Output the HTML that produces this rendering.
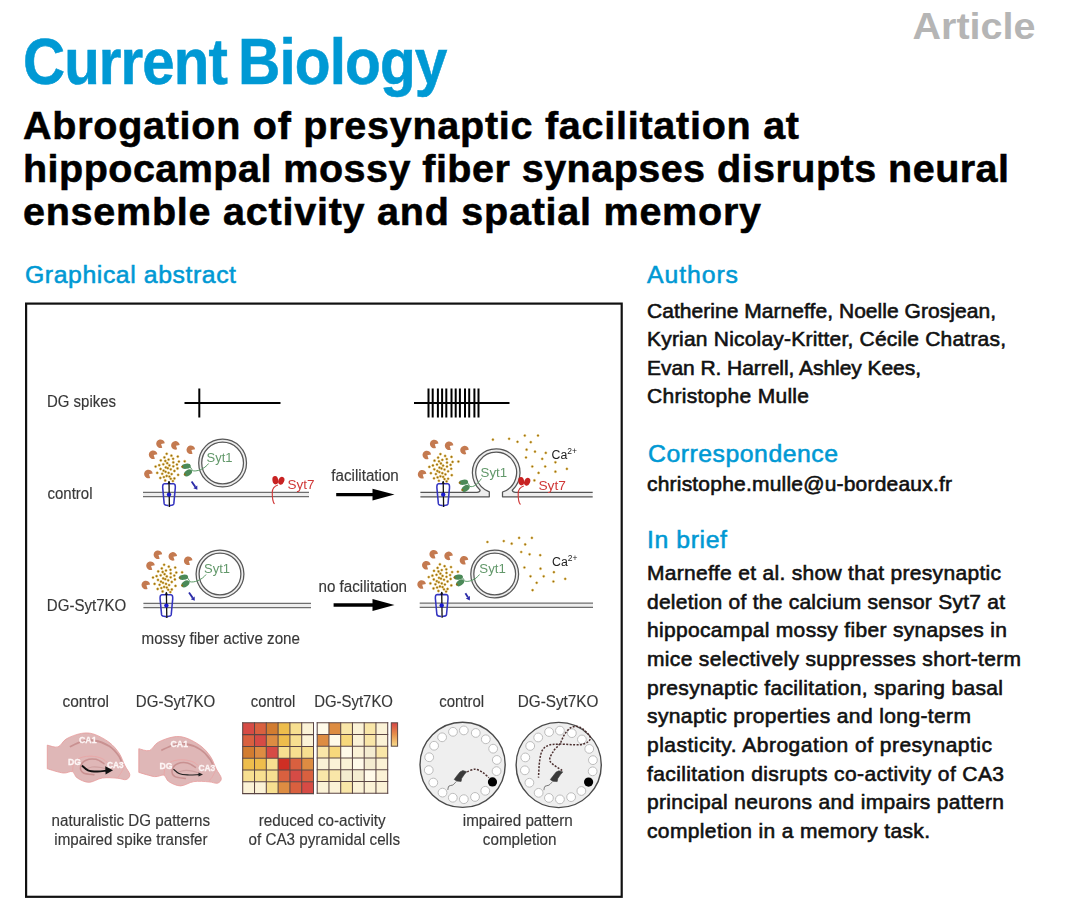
<!DOCTYPE html>
<html><head><meta charset="utf-8">
<style>
html,body{margin:0;padding:0;background:#fff;width:1080px;height:910px;overflow:hidden}
svg{display:block;position:absolute;left:0;top:0}
.figsvg{will-change:transform}
text{font-family:"Liberation Sans",sans-serif}
.b{font-weight:bold}
.blue{fill:#0099d4}
.body{fill:#111;font-size:21px;stroke:#111;stroke-width:0.6px}
.fig{fill:#3a3a3a;font-size:15px}
.blue{stroke:#0099d4;stroke-width:0.55px}
</style></head><body>
<svg width="1080" height="910" viewBox="0 0 1080 910">
<!-- header -->
<text class="b" x="912.5" y="39.4" font-size="37.8" fill="#b5b5b5" textLength="123" lengthAdjust="spacingAndGlyphs">Article</text>
<text class="b blue" x="23" y="84" font-size="64.2" textLength="204" lengthAdjust="spacingAndGlyphs" letter-spacing="-1">Current</text><text class="b blue" x="238" y="84" font-size="64.2" textLength="208.5" lengthAdjust="spacingAndGlyphs" letter-spacing="-1">Biology</text>
<text class="b" x="23" y="139.4" font-size="39.5" fill="#000" stroke="#000" stroke-width="0.55" textLength="776" lengthAdjust="spacing">Abrogation of presynaptic facilitation at</text>
<text class="b" x="23" y="182.2" font-size="39.5" fill="#000" stroke="#000" stroke-width="0.55" textLength="986" lengthAdjust="spacing">hippocampal mossy fiber synapses disrupts neural</text>
<text class="b" x="23" y="224.5" font-size="39.5" fill="#000" stroke="#000" stroke-width="0.55" textLength="738" lengthAdjust="spacing">ensemble activity and spatial memory</text>

<!-- section headings -->
<text class="blue" x="25" y="282.6" font-size="24.8" textLength="211" lengthAdjust="spacing">Graphical abstract</text>
<text class="blue" x="647" y="283" font-size="24.8" textLength="91" lengthAdjust="spacing">Authors</text>
<text class="blue" x="648" y="461.8" font-size="24.8" textLength="190" lengthAdjust="spacing">Correspondence</text>
<text class="blue" x="647" y="548" font-size="24.8" textLength="80" lengthAdjust="spacing">In brief</text>

<!-- authors -->
<g class="body">
<text x="647" y="317.8" textLength="349" lengthAdjust="spacing">Catherine Marneffe, Noelle Grosjean,</text>
<text x="647" y="346.2" textLength="359" lengthAdjust="spacing">Kyrian Nicolay-Kritter, Cécile Chatras,</text>
<text x="647" y="374.6" textLength="274" lengthAdjust="spacing">Evan R. Harrell, Ashley Kees,</text>
<text x="647" y="403" textLength="162" lengthAdjust="spacing">Christophe Mulle</text>
<text x="647" y="490.6" textLength="305" lengthAdjust="spacing">christophe.mulle@u-bordeaux.fr</text>
</g>
<!-- in brief -->
<g class="body">
<text x="647" y="580.00" textLength="354" lengthAdjust="spacing">Marneffe et al. show that presynaptic</text>
<text x="647" y="608.65" textLength="358" lengthAdjust="spacing">deletion of the calcium sensor Syt7 at</text>
<text x="647" y="637.30" textLength="360" lengthAdjust="spacing">hippocampal mossy fiber synapses in</text>
<text x="647" y="665.95" textLength="374" lengthAdjust="spacing">mice selectively suppresses short-term</text>
<text x="647" y="694.60" textLength="356" lengthAdjust="spacing">presynaptic facilitation, sparing basal</text>
<text x="647" y="723.25" textLength="324" lengthAdjust="spacing">synaptic properties and long-term</text>
<text x="647" y="751.90" textLength="345" lengthAdjust="spacing">plasticity. Abrogation of presynaptic</text>
<text x="647" y="780.55" textLength="357" lengthAdjust="spacing">facilitation disrupts co-activity of CA3</text>
<text x="647" y="809.20" textLength="357" lengthAdjust="spacing">principal neurons and impairs pattern</text>
<text x="647" y="837.85" textLength="283" lengthAdjust="spacing">completion in a memory task.</text>
</g>

<!-- graphical abstract box -->
<rect x="26.1" y="303.6" width="595.6" height="593.2" fill="none" stroke="#111" stroke-width="2.2"/>

</svg>
<svg class="figsvg" width="1080" height="910" viewBox="0 0 1080 910">
<!-- FIGURE -->
<g id="fig">
<!--FIG-->
<g stroke="#000" stroke-width="2">
<line x1="184.5" y1="403" x2="280.5" y2="403"/>
<line x1="199.3" y1="388.5" x2="199.3" y2="417.5"/>
<line x1="414" y1="403" x2="509.5" y2="403"/>
<line x1="428.5" y1="388.5" x2="428.5" y2="417.5"/>
<line x1="432.7" y1="388.5" x2="432.7" y2="417.5"/>
<line x1="437.9" y1="388.5" x2="437.9" y2="417.5"/>
<line x1="442.1" y1="388.5" x2="442.1" y2="417.5"/>
<line x1="446.3" y1="388.5" x2="446.3" y2="417.5"/>
<line x1="451.5" y1="388.5" x2="451.5" y2="417.5"/>
<line x1="455.7" y1="388.5" x2="455.7" y2="417.5"/>
<line x1="459.9" y1="388.5" x2="459.9" y2="417.5"/>
<line x1="465" y1="388.5" x2="465" y2="417.5"/>
<line x1="469.2" y1="388.5" x2="469.2" y2="417.5"/>
<line x1="474.4" y1="388.5" x2="474.4" y2="417.5"/>
<line x1="478.5" y1="388.5" x2="478.5" y2="417.5"/>
</g>
<text x="47" y="407.2" font-size="15.6" fill="#383838" stroke="#383838" stroke-width="0.15" textLength="69" lengthAdjust="spacingAndGlyphs">DG spikes</text>
<text x="47.5" y="498.8" font-size="15.6" fill="#383838" stroke="#383838" stroke-width="0.15" textLength="45" lengthAdjust="spacingAndGlyphs">control</text>
<text x="46.8" y="610.6" font-size="15.6" fill="#383838" stroke="#383838" stroke-width="0.15" textLength="79.5" lengthAdjust="spacingAndGlyphs">DG-Syt7KO</text>
<text x="331.3" y="480.6" font-size="15.6" fill="#383838" stroke="#383838" stroke-width="0.15" textLength="67.5" lengthAdjust="spacingAndGlyphs">facilitation</text>
<text x="318.5" y="592" font-size="15.6" fill="#383838" stroke="#383838" stroke-width="0.15" textLength="88.5" lengthAdjust="spacingAndGlyphs">no facilitation</text>
<text x="141.5" y="643.6" font-size="15.6" fill="#383838" stroke="#383838" stroke-width="0.15" textLength="158.5" lengthAdjust="spacingAndGlyphs">mossy fiber active zone</text>
<line x1="336.2" y1="494.6" x2="374.5" y2="494.6" stroke="#000" stroke-width="3.4"/>
<path d="M372.5 488.7 L394.5 494.6 L372.5 500.5 Z" fill="#000"/>
<line x1="333.6" y1="605" x2="374.5" y2="605" stroke="#000" stroke-width="3.4"/>
<path d="M372.5 599.1 L394.5 605 L372.5 610.9 Z" fill="#000"/>
<rect x="143" y="492.4" width="166" height="4.2" fill="#eeeeee"/>
<g stroke="#6e6e6e" stroke-width="1.3"><line x1="143" y1="492.4" x2="309" y2="492.4"/><line x1="143" y1="496.6" x2="309" y2="496.6"/></g>
<circle cx="222.6" cy="463" r="22.4" fill="none" stroke="#eeeeee" stroke-width="4.2"/>
<g fill="none" stroke="#585858" stroke-width="1.25"><circle cx="222.6" cy="463" r="23.9"/><circle cx="222.6" cy="463" r="20.9"/></g>
<path d="M161.1 444 L164.78 443.25 A4.3 4.3 0 1 0 162.25 447.63 Z" fill="#c47a50"/>
<path d="M176 445.7 L179.68 444.95 A4.3 4.3 0 1 0 177.15 449.33 Z" fill="#c47a50"/>
<path d="M191.4 450.1 L195.08 449.35 A4.3 4.3 0 1 0 192.55 453.73 Z" fill="#c47a50"/>
<path d="M153.7 455 L157.38 454.25 A4.3 4.3 0 1 0 154.85 458.63 Z" fill="#c47a50"/>
<path d="M149 474.3 L152.68 473.55 A4.3 4.3 0 1 0 150.15 477.93 Z" fill="#c47a50"/>
<g fill="#946a0e" stroke="#e6bd4e" stroke-width="0.5">
<circle cx="166.7" cy="453.8" r="1.15"/>
<circle cx="164.4" cy="457.4" r="1.15"/>
<circle cx="171.4" cy="455.7" r="1.15"/>
<circle cx="177.8" cy="456.6" r="1.15"/>
<circle cx="160.8" cy="460.4" r="1.15"/>
<circle cx="165.3" cy="461" r="1.15"/>
<circle cx="168.6" cy="459.6" r="1.15"/>
<circle cx="173.1" cy="458.8" r="1.15"/>
<circle cx="178.9" cy="461.6" r="1.15"/>
<circle cx="184.7" cy="461.3" r="1.15"/>
<circle cx="155.6" cy="466.6" r="1.15"/>
<circle cx="159.2" cy="465.2" r="1.15"/>
<circle cx="163.3" cy="464.3" r="1.15"/>
<circle cx="167.2" cy="463.2" r="1.15"/>
<circle cx="169.4" cy="465.4" r="1.15"/>
<circle cx="173.3" cy="462.4" r="1.15"/>
<circle cx="173.3" cy="466.3" r="1.15"/>
<circle cx="176.9" cy="464.6" r="1.15"/>
<circle cx="160.6" cy="469" r="1.15"/>
<circle cx="165.8" cy="467.4" r="1.15"/>
<circle cx="167.8" cy="468.2" r="1.15"/>
<circle cx="170.8" cy="469.3" r="1.15"/>
<circle cx="177.5" cy="468.5" r="1.15"/>
<circle cx="174.4" cy="471" r="1.15"/>
<circle cx="157.2" cy="472.9" r="1.15"/>
<circle cx="162.2" cy="473.8" r="1.15"/>
<circle cx="163.6" cy="470.7" r="1.15"/>
<circle cx="165.6" cy="471.8" r="1.15"/>
<circle cx="168.6" cy="472.9" r="1.15"/>
<circle cx="171.7" cy="474.1" r="1.15"/>
<circle cx="178.1" cy="474.9" r="1.15"/>
<circle cx="160.3" cy="478" r="1.15"/>
<circle cx="163.9" cy="477.1" r="1.15"/>
<circle cx="166.7" cy="476" r="1.15"/>
<circle cx="169.4" cy="476.6" r="1.15"/>
<circle cx="170.8" cy="478.8" r="1.15"/>
<circle cx="174.4" cy="478.5" r="1.15"/>
<circle cx="165.2" cy="480.5" r="1.15"/>
<circle cx="172.9" cy="481.1" r="1.15"/>
</g>
<g fill="none" stroke="#3434c0" stroke-width="1.55">
<path d="M168.6 483.8 L164.4 483.8 Q162.4 484 162.7 487.9 L164.2 503.9 Q164.7 505.6 168.6 505.6"/>
<path d="M169.4 483.8 L173.6 483.8 Q175.6 484 175.3 487.9 L173.8 503.9 Q173.3 505.6 169.4 505.6"/>
</g>
<line x1="169" y1="481.2" x2="169.4" y2="507" stroke="#111" stroke-width="1.3"/>
<path d="M167.4 483.8 L169 480.8 L170.6 483.8 Z" fill="#111"/>
<circle cx="169" cy="494.6" r="2.2" fill="#1a1ad0"/>
<line x1="191.6" y1="481.6" x2="195.32" y2="486.86" stroke="#2a2aa8" stroke-width="1.8"/>
<path d="M193.36 488.25 L197.4 489.8 L197.28 485.47 Z" fill="#2a2aa8"/>
<ellipse cx="186.2" cy="466.3" rx="4.6" ry="2.6" transform="rotate(-8 186.2 466.3)" fill="#4b8a58"/>
<ellipse cx="188" cy="472.9" rx="4.4" ry="2.8" transform="rotate(-35 188 472.9)" fill="#4b8a58"/>
<circle cx="182.2" cy="466.7" r="1" fill="#946a0e"/>
<circle cx="184.7" cy="474.5" r="1" fill="#946a0e"/>
<path d="M190.2 466.9 Q193.2 469.6 191.2 472.4" fill="none" stroke="#4b8a58" stroke-width="0.9"/>
<path d="M192.2 470.6 C196.2 472.1 204.6 469 208.6 463.5" fill="none" stroke="#5a9a66" stroke-width="1"/>
<text x="206.6" y="462.3" font-size="12.6" fill="#62986a" textLength="26" lengthAdjust="spacingAndGlyphs">Syt1</text>
<ellipse cx="275.3" cy="480.2" rx="2.9" ry="4.2" transform="rotate(-8 275.3 480.2)" fill="#c82222"/>
<ellipse cx="281.3" cy="480.7" rx="2.9" ry="4.1" transform="rotate(22 281.3 480.7)" fill="#c82222"/>
<path d="M277.9 485 Q272.5 486.7 272.3 492.2 Q272.1 501.2 274.5 504" fill="none" stroke="#d03a3a" stroke-width="1.15"/>
<text x="287.6" y="488.6" font-size="12.6" fill="#d03838" textLength="27" lengthAdjust="spacingAndGlyphs">Syt7</text>
<rect x="143.4" y="603.4" width="167.6" height="4.2" fill="#eeeeee"/>
<g stroke="#6e6e6e" stroke-width="1.3"><line x1="143.4" y1="603.4" x2="311" y2="603.4"/><line x1="143.4" y1="607.6" x2="311" y2="607.6"/></g>
<circle cx="220" cy="574" r="22.4" fill="none" stroke="#eeeeee" stroke-width="4.2"/>
<g fill="none" stroke="#585858" stroke-width="1.25"><circle cx="220" cy="574" r="23.9"/><circle cx="220" cy="574" r="20.9"/></g>
<path d="M158.5 555 L162.18 554.25 A4.3 4.3 0 1 0 159.65 558.63 Z" fill="#c47a50"/>
<path d="M173.4 556.7 L177.08 555.95 A4.3 4.3 0 1 0 174.55 560.33 Z" fill="#c47a50"/>
<path d="M188.8 561.1 L192.48 560.35 A4.3 4.3 0 1 0 189.95 564.73 Z" fill="#c47a50"/>
<path d="M151.1 566 L154.78 565.25 A4.3 4.3 0 1 0 152.25 569.63 Z" fill="#c47a50"/>
<path d="M146.4 585.3 L150.08 584.55 A4.3 4.3 0 1 0 147.55 588.93 Z" fill="#c47a50"/>
<g fill="#946a0e" stroke="#e6bd4e" stroke-width="0.5">
<circle cx="164.1" cy="564.8" r="1.15"/>
<circle cx="161.8" cy="568.4" r="1.15"/>
<circle cx="168.8" cy="566.7" r="1.15"/>
<circle cx="175.2" cy="567.6" r="1.15"/>
<circle cx="158.2" cy="571.4" r="1.15"/>
<circle cx="162.7" cy="572" r="1.15"/>
<circle cx="166" cy="570.6" r="1.15"/>
<circle cx="170.5" cy="569.8" r="1.15"/>
<circle cx="176.3" cy="572.6" r="1.15"/>
<circle cx="182.1" cy="572.3" r="1.15"/>
<circle cx="153" cy="577.6" r="1.15"/>
<circle cx="156.6" cy="576.2" r="1.15"/>
<circle cx="160.7" cy="575.3" r="1.15"/>
<circle cx="164.6" cy="574.2" r="1.15"/>
<circle cx="166.8" cy="576.4" r="1.15"/>
<circle cx="170.7" cy="573.4" r="1.15"/>
<circle cx="170.7" cy="577.3" r="1.15"/>
<circle cx="174.3" cy="575.6" r="1.15"/>
<circle cx="158" cy="580" r="1.15"/>
<circle cx="163.2" cy="578.4" r="1.15"/>
<circle cx="165.2" cy="579.2" r="1.15"/>
<circle cx="168.2" cy="580.3" r="1.15"/>
<circle cx="174.9" cy="579.5" r="1.15"/>
<circle cx="171.8" cy="582" r="1.15"/>
<circle cx="154.6" cy="583.9" r="1.15"/>
<circle cx="159.6" cy="584.8" r="1.15"/>
<circle cx="161" cy="581.7" r="1.15"/>
<circle cx="163" cy="582.8" r="1.15"/>
<circle cx="166" cy="583.9" r="1.15"/>
<circle cx="169.1" cy="585.1" r="1.15"/>
<circle cx="175.5" cy="585.9" r="1.15"/>
<circle cx="157.7" cy="589" r="1.15"/>
<circle cx="161.3" cy="588.1" r="1.15"/>
<circle cx="164.1" cy="587" r="1.15"/>
<circle cx="166.8" cy="587.6" r="1.15"/>
<circle cx="168.2" cy="589.8" r="1.15"/>
<circle cx="171.8" cy="589.5" r="1.15"/>
<circle cx="162.6" cy="591.5" r="1.15"/>
<circle cx="170.3" cy="592.1" r="1.15"/>
</g>
<g fill="none" stroke="#3434c0" stroke-width="1.55">
<path d="M166 594.8 L161.8 594.8 Q159.8 595 160.1 598.9 L161.6 614.9 Q162.1 616.6 166 616.6"/>
<path d="M166.8 594.8 L171 594.8 Q173 595 172.7 598.9 L171.2 614.9 Q170.7 616.6 166.8 616.6"/>
</g>
<line x1="166.4" y1="592.2" x2="166.8" y2="618" stroke="#111" stroke-width="1.3"/>
<path d="M164.8 594.8 L166.4 591.8 L168 594.8 Z" fill="#111"/>
<circle cx="166.4" cy="605.6" r="2.2" fill="#1a1ad0"/>
<line x1="189" y1="592.6" x2="192.72" y2="597.86" stroke="#2a2aa8" stroke-width="1.8"/>
<path d="M190.76 599.25 L194.8 600.8 L194.68 596.47 Z" fill="#2a2aa8"/>
<ellipse cx="183.6" cy="577.3" rx="4.6" ry="2.6" transform="rotate(-8 183.6 577.3)" fill="#4b8a58"/>
<ellipse cx="185.4" cy="583.9" rx="4.4" ry="2.8" transform="rotate(-35 185.4 583.9)" fill="#4b8a58"/>
<circle cx="179.6" cy="577.7" r="1" fill="#946a0e"/>
<circle cx="182.1" cy="585.5" r="1" fill="#946a0e"/>
<path d="M187.6 577.9 Q190.6 580.6 188.6 583.4" fill="none" stroke="#4b8a58" stroke-width="0.9"/>
<path d="M189.6 581.6 C193.6 583.1 202 580 206 574.5" fill="none" stroke="#5a9a66" stroke-width="1"/>
<text x="204" y="573.3" font-size="12.6" fill="#62986a" textLength="26" lengthAdjust="spacingAndGlyphs">Syt1</text>
<path d="M420.4 492.4 L476.98 492.4 Q479.68 492.4 480.18 490.2 A23.8 23.8 0 1 1 512.22 490.2 Q512.72 492.4 515.42 492.4 L592.7 492.4 L592.7 496.8 L502.5 496.8 L502.5 492 A20.4 20.4 0 1 0 489.3 491.8 L489.3 496.8 L420.4 496.8 Z" fill="#eeeeee"/>
<g fill="none" stroke="#555" stroke-width="1.25" stroke-linejoin="round"><path d="M420.4 492.4 L476.98 492.4 Q479.68 492.4 480.18 490.2 A23.8 23.8 0 1 1 512.22 490.2 Q512.72 492.4 515.42 492.4 L592.7 492.4"/><path d="M420.4 496.8 L489.3 496.8 L489.3 491.8 A20.4 20.4 0 1 1 502.5 492 L502.5 496.8 L592.7 496.8"/></g>
<path d="M434.8 444.3 L438.48 443.55 A4.3 4.3 0 1 0 435.95 447.93 Z" fill="#c47a50"/>
<path d="M449.7 446 L453.38 445.25 A4.3 4.3 0 1 0 450.85 449.63 Z" fill="#c47a50"/>
<path d="M465.1 450.4 L468.78 449.65 A4.3 4.3 0 1 0 466.25 454.03 Z" fill="#c47a50"/>
<path d="M427.4 455.3 L431.08 454.55 A4.3 4.3 0 1 0 428.55 458.93 Z" fill="#c47a50"/>
<path d="M422.7 474.6 L426.38 473.85 A4.3 4.3 0 1 0 423.85 478.23 Z" fill="#c47a50"/>
<g fill="#946a0e" stroke="#e6bd4e" stroke-width="0.5">
<circle cx="440.4" cy="454.1" r="1.15"/>
<circle cx="438.1" cy="457.7" r="1.15"/>
<circle cx="445.1" cy="456" r="1.15"/>
<circle cx="451.5" cy="456.9" r="1.15"/>
<circle cx="434.5" cy="460.7" r="1.15"/>
<circle cx="439" cy="461.3" r="1.15"/>
<circle cx="442.3" cy="459.9" r="1.15"/>
<circle cx="446.8" cy="459.1" r="1.15"/>
<circle cx="452.6" cy="461.9" r="1.15"/>
<circle cx="458.4" cy="461.6" r="1.15"/>
<circle cx="429.3" cy="466.9" r="1.15"/>
<circle cx="432.9" cy="465.5" r="1.15"/>
<circle cx="437" cy="464.6" r="1.15"/>
<circle cx="440.9" cy="463.5" r="1.15"/>
<circle cx="443.1" cy="465.7" r="1.15"/>
<circle cx="447" cy="462.7" r="1.15"/>
<circle cx="447" cy="466.6" r="1.15"/>
<circle cx="450.6" cy="464.9" r="1.15"/>
<circle cx="434.3" cy="469.3" r="1.15"/>
<circle cx="439.5" cy="467.7" r="1.15"/>
<circle cx="441.5" cy="468.5" r="1.15"/>
<circle cx="444.5" cy="469.6" r="1.15"/>
<circle cx="451.2" cy="468.8" r="1.15"/>
<circle cx="448.1" cy="471.3" r="1.15"/>
<circle cx="430.9" cy="473.2" r="1.15"/>
<circle cx="435.9" cy="474.1" r="1.15"/>
<circle cx="437.3" cy="471" r="1.15"/>
<circle cx="439.3" cy="472.1" r="1.15"/>
<circle cx="442.3" cy="473.2" r="1.15"/>
<circle cx="445.4" cy="474.4" r="1.15"/>
<circle cx="451.8" cy="475.2" r="1.15"/>
<circle cx="434" cy="478.3" r="1.15"/>
<circle cx="437.6" cy="477.4" r="1.15"/>
<circle cx="440.4" cy="476.3" r="1.15"/>
<circle cx="443.1" cy="476.9" r="1.15"/>
<circle cx="444.5" cy="479.1" r="1.15"/>
<circle cx="448.1" cy="478.8" r="1.15"/>
<circle cx="438.9" cy="480.8" r="1.15"/>
<circle cx="446.6" cy="481.4" r="1.15"/>
</g>
<g fill="none" stroke="#3434c0" stroke-width="1.55">
<path d="M442.8 483.8 L438.6 483.8 Q436.6 484 436.9 487.9 L438.4 503.9 Q438.9 505.6 442.8 505.6"/>
<path d="M443.6 483.8 L447.8 483.8 Q449.8 484 449.5 487.9 L448 503.9 Q447.5 505.6 443.6 505.6"/>
</g>
<line x1="443.2" y1="481.2" x2="443.6" y2="507" stroke="#111" stroke-width="1.3"/>
<path d="M441.6 483.8 L443.2 480.8 L444.8 483.8 Z" fill="#111"/>
<circle cx="443.2" cy="494.6" r="2.2" fill="#1a1ad0"/>
<ellipse cx="463.6" cy="482.3" rx="4.6" ry="2.6" transform="rotate(-8 463.6 482.3)" fill="#4b8a58"/>
<ellipse cx="465.6" cy="488.4" rx="4.4" ry="2.8" transform="rotate(-35 465.6 488.4)" fill="#4b8a58"/>
<circle cx="459.6" cy="482.7" r="1" fill="#946a0e"/>
<circle cx="462.3" cy="490" r="1" fill="#946a0e"/>
<path d="M467.6 482.9 Q470.6 485.35 468.6 487.9" fill="none" stroke="#4b8a58" stroke-width="0.9"/>
<path d="M469.6 486.35 C473.6 487.85 477.5 484 481.5 478.5" fill="none" stroke="#5a9a66" stroke-width="1"/>
<text x="480.6" y="476.7" font-size="12.6" fill="#62986a" textLength="26.5" lengthAdjust="spacingAndGlyphs">Syt1</text>
<ellipse cx="521.2" cy="481.2" rx="2.9" ry="4.2" transform="rotate(-8 521.2 481.2)" fill="#c82222"/>
<ellipse cx="527.2" cy="481.7" rx="2.9" ry="4.1" transform="rotate(22 527.2 481.7)" fill="#c82222"/>
<path d="M523.8 486 Q518.4 487.7 518.2 493.2 Q518 502.2 520.5 504.5" fill="none" stroke="#d03a3a" stroke-width="1.15"/>
<text x="538.4" y="489.6" font-size="12.6" fill="#d03838" textLength="27.5" lengthAdjust="spacingAndGlyphs">Syt7</text>
<g fill="#946a0e" stroke="#e6bd4e" stroke-width="0.5">
<circle cx="492.9" cy="439.7" r="1.1"/>
<circle cx="509.1" cy="438.8" r="1.1"/>
<circle cx="517.5" cy="441.8" r="1.1"/>
<circle cx="524.8" cy="435.6" r="1.1"/>
<circle cx="530.8" cy="442.2" r="1.1"/>
<circle cx="538" cy="435.6" r="1.1"/>
<circle cx="526.6" cy="449.7" r="1.1"/>
<circle cx="535" cy="451.7" r="1.1"/>
<circle cx="545.8" cy="452.9" r="1.1"/>
<circle cx="526" cy="457.5" r="1.1"/>
<circle cx="542.2" cy="458.9" r="1.1"/>
<circle cx="555.4" cy="462.3" r="1.1"/>
<circle cx="532.3" cy="466.5" r="1.1"/>
<circle cx="545.2" cy="466.5" r="1.1"/>
<circle cx="566.9" cy="468.9" r="1.1"/>
<circle cx="538.6" cy="472.9" r="1.1"/>
<circle cx="555.4" cy="471.7" r="1.1"/>
<circle cx="534.4" cy="480.4" r="1.1"/>
</g>
<text x="551.6" y="458.8" font-size="12.3" fill="#222">Ca<tspan font-size="8.5" dy="-5">2+</tspan></text>
<rect x="419.7" y="603.2" width="173.3" height="4.2" fill="#eeeeee"/>
<g stroke="#6e6e6e" stroke-width="1.3"><line x1="419.7" y1="603.2" x2="593" y2="603.2"/><line x1="419.7" y1="607.4" x2="593" y2="607.4"/></g>
<circle cx="494.7" cy="574" r="22.4" fill="none" stroke="#eeeeee" stroke-width="4.2"/>
<g fill="none" stroke="#585858" stroke-width="1.25"><circle cx="494.7" cy="574" r="23.9"/><circle cx="494.7" cy="574" r="20.9"/></g>
<path d="M434.3 554.5 L437.98 553.75 A4.3 4.3 0 1 0 435.45 558.13 Z" fill="#c47a50"/>
<path d="M449.2 556.2 L452.88 555.45 A4.3 4.3 0 1 0 450.35 559.83 Z" fill="#c47a50"/>
<path d="M464.6 560.6 L468.28 559.85 A4.3 4.3 0 1 0 465.75 564.23 Z" fill="#c47a50"/>
<path d="M426.9 565.5 L430.58 564.75 A4.3 4.3 0 1 0 428.05 569.13 Z" fill="#c47a50"/>
<path d="M422.2 584.8 L425.88 584.05 A4.3 4.3 0 1 0 423.35 588.43 Z" fill="#c47a50"/>
<g fill="#946a0e" stroke="#e6bd4e" stroke-width="0.5">
<circle cx="439.9" cy="564.3" r="1.15"/>
<circle cx="437.6" cy="567.9" r="1.15"/>
<circle cx="444.6" cy="566.2" r="1.15"/>
<circle cx="451" cy="567.1" r="1.15"/>
<circle cx="434" cy="570.9" r="1.15"/>
<circle cx="438.5" cy="571.5" r="1.15"/>
<circle cx="441.8" cy="570.1" r="1.15"/>
<circle cx="446.3" cy="569.3" r="1.15"/>
<circle cx="452.1" cy="572.1" r="1.15"/>
<circle cx="457.9" cy="571.8" r="1.15"/>
<circle cx="428.8" cy="577.1" r="1.15"/>
<circle cx="432.4" cy="575.7" r="1.15"/>
<circle cx="436.5" cy="574.8" r="1.15"/>
<circle cx="440.4" cy="573.7" r="1.15"/>
<circle cx="442.6" cy="575.9" r="1.15"/>
<circle cx="446.5" cy="572.9" r="1.15"/>
<circle cx="446.5" cy="576.8" r="1.15"/>
<circle cx="450.1" cy="575.1" r="1.15"/>
<circle cx="433.8" cy="579.5" r="1.15"/>
<circle cx="439" cy="577.9" r="1.15"/>
<circle cx="441" cy="578.7" r="1.15"/>
<circle cx="444" cy="579.8" r="1.15"/>
<circle cx="450.7" cy="579" r="1.15"/>
<circle cx="447.6" cy="581.5" r="1.15"/>
<circle cx="430.4" cy="583.4" r="1.15"/>
<circle cx="435.4" cy="584.3" r="1.15"/>
<circle cx="436.8" cy="581.2" r="1.15"/>
<circle cx="438.8" cy="582.3" r="1.15"/>
<circle cx="441.8" cy="583.4" r="1.15"/>
<circle cx="444.9" cy="584.6" r="1.15"/>
<circle cx="451.3" cy="585.4" r="1.15"/>
<circle cx="433.5" cy="588.5" r="1.15"/>
<circle cx="437.1" cy="587.6" r="1.15"/>
<circle cx="439.9" cy="586.5" r="1.15"/>
<circle cx="442.6" cy="587.1" r="1.15"/>
<circle cx="444" cy="589.3" r="1.15"/>
<circle cx="447.6" cy="589" r="1.15"/>
<circle cx="438.4" cy="591" r="1.15"/>
<circle cx="446.1" cy="591.6" r="1.15"/>
</g>
<g fill="none" stroke="#3434c0" stroke-width="1.55">
<path d="M441.3 594.6 L437.1 594.6 Q435.1 594.8 435.4 598.7 L436.9 614.7 Q437.4 616.4 441.3 616.4"/>
<path d="M442.1 594.6 L446.3 594.6 Q448.3 594.8 448 598.7 L446.5 614.7 Q446 616.4 442.1 616.4"/>
</g>
<line x1="441.7" y1="592" x2="442.1" y2="617.8" stroke="#111" stroke-width="1.3"/>
<path d="M440.1 594.6 L441.7 591.6 L443.3 594.6 Z" fill="#111"/>
<circle cx="441.7" cy="605.4" r="2.2" fill="#1a1ad0"/>
<line x1="465.4" y1="593.3" x2="467.9" y2="597.34" stroke="#2a2aa8" stroke-width="1.8"/>
<path d="M465.86 598.6 L469.8 600.4 L469.94 596.08 Z" fill="#2a2aa8"/>
<ellipse cx="458.4" cy="577.1" rx="4.6" ry="2.6" transform="rotate(-8 458.4 577.1)" fill="#4b8a58"/>
<ellipse cx="460.1" cy="582.8" rx="4.4" ry="2.8" transform="rotate(-35 460.1 582.8)" fill="#4b8a58"/>
<circle cx="454.4" cy="577.5" r="1" fill="#946a0e"/>
<circle cx="456.8" cy="584.4" r="1" fill="#946a0e"/>
<path d="M462.4 577.7 Q465.4 579.95 463.4 582.3" fill="none" stroke="#4b8a58" stroke-width="0.9"/>
<path d="M464.4 580.95 C468.4 582.45 475.5 580 479.5 574.5" fill="none" stroke="#5a9a66" stroke-width="1"/>
<text x="479.3" y="572.9" font-size="12.6" fill="#62986a" textLength="26.5" lengthAdjust="spacingAndGlyphs">Syt1</text>
<g fill="#946a0e" stroke="#e6bd4e" stroke-width="0.5">
<circle cx="487.4" cy="542" r="1.1"/>
<circle cx="503.8" cy="541.1" r="1.1"/>
<circle cx="511.7" cy="543.7" r="1.1"/>
<circle cx="519.1" cy="537.9" r="1.1"/>
<circle cx="525.2" cy="544.4" r="1.1"/>
<circle cx="531.9" cy="537.9" r="1.1"/>
<circle cx="521.2" cy="552" r="1.1"/>
<circle cx="529.6" cy="554.3" r="1.1"/>
<circle cx="540.2" cy="555.2" r="1.1"/>
<circle cx="524.4" cy="567.5" r="1.1"/>
<circle cx="540.5" cy="568.7" r="1.1"/>
<circle cx="553.9" cy="572.2" r="1.1"/>
<circle cx="530.5" cy="576.3" r="1.1"/>
<circle cx="543.7" cy="576.3" r="1.1"/>
<circle cx="565.2" cy="578.9" r="1.1"/>
<circle cx="536.7" cy="582.8" r="1.1"/>
<circle cx="553.4" cy="581.5" r="1.1"/>
<circle cx="532.6" cy="590.2" r="1.1"/>
</g>
<text x="552" y="566.1" font-size="12.3" fill="#222">Ca<tspan font-size="8.5" dy="-5">2+</tspan></text>
<text x="62.5" y="706.9" font-size="15.6" fill="#383838" stroke="#383838" stroke-width="0.15" textLength="46.5" lengthAdjust="spacingAndGlyphs">control</text>
<text x="135.8" y="706.9" font-size="15.6" fill="#383838" stroke="#383838" stroke-width="0.15" textLength="79.5" lengthAdjust="spacingAndGlyphs">DG-Syt7KO</text>
<text x="250.8" y="706.9" font-size="15.6" fill="#383838" stroke="#383838" stroke-width="0.15" textLength="44.5" lengthAdjust="spacingAndGlyphs">control</text>
<text x="314.2" y="706.9" font-size="15.6" fill="#383838" stroke="#383838" stroke-width="0.15" textLength="78.8" lengthAdjust="spacingAndGlyphs">DG-Syt7KO</text>
<text x="439.2" y="706.9" font-size="15.6" fill="#383838" stroke="#383838" stroke-width="0.15" textLength="45" lengthAdjust="spacingAndGlyphs">control</text>
<text x="517.7" y="706.9" font-size="15.6" fill="#383838" stroke="#383838" stroke-width="0.15" textLength="80.8" lengthAdjust="spacingAndGlyphs">DG-Syt7KO</text>
<text x="51.6" y="826.3" font-size="15.6" fill="#383838" stroke="#383838" stroke-width="0.15" textLength="158.5" lengthAdjust="spacingAndGlyphs">naturalistic DG patterns</text>
<text x="54.3" y="845.1" font-size="15.6" fill="#383838" stroke="#383838" stroke-width="0.15" textLength="153.3" lengthAdjust="spacingAndGlyphs">impaired spike transfer</text>
<text x="258.8" y="826.3" font-size="15.6" fill="#383838" stroke="#383838" stroke-width="0.15" textLength="126.8" lengthAdjust="spacingAndGlyphs">reduced co-activity</text>
<text x="248.5" y="844.8" font-size="15.6" fill="#383838" stroke="#383838" stroke-width="0.15" textLength="151.5" lengthAdjust="spacingAndGlyphs">of CA3 pyramidal cells</text>
<text x="462.8" y="826.2" font-size="15.6" fill="#383838" stroke="#383838" stroke-width="0.15" textLength="110" lengthAdjust="spacingAndGlyphs">impaired pattern</text>
<text x="482.8" y="845" font-size="15.6" fill="#383838" stroke="#383838" stroke-width="0.15" textLength="73.8" lengthAdjust="spacingAndGlyphs">completion</text>
<path d="M47.3 745.1 C49.08 745.4 54.8 747.95 58 746.9 C61.2 745.85 62.58 741.05 66.5 738.8 C70.42 736.55 76.92 734.17 81.5 733.4 C86.08 732.63 89.42 732.73 94 734.2 C98.58 735.67 104.83 739.07 109 742.2 C113.17 745.33 116.37 749.12 119 753 C121.63 756.88 123 761.88 124.8 765.5 C126.6 769.12 129.6 772.35 129.8 774.7 C130 777.05 128.08 779.02 126 779.6 C123.92 780.18 121.25 778.47 117.3 778.2 C113.35 777.93 107.02 777.32 102.3 778 C97.58 778.68 93.17 782.3 89 782.3 C84.83 782.3 80.08 779.78 77.3 778 C74.52 776.22 74.65 772.43 72.3 771.6 C69.95 770.77 67.37 773.47 63.2 773 C59.03 772.53 49.95 769.5 47.3 768.8 Z" fill="#dfb7b7" stroke="#e79a9a" stroke-width="0.8"/>
<path d="M72.6 771.4 C72.83 770 72.6 765.3 74 763 C75.4 760.7 78 758.73 81 757.6 C84 756.47 88.5 756.05 92 756.2 C95.5 756.35 99.5 757.45 102 758.5 C104.5 759.55 106.17 761.83 107 762.5" fill="none" stroke="#eba3a3" stroke-width="0.8"/>
<path d="M117.3 778.2 C118 777.17 120.25 774.12 121.5 772 C122.75 769.88 124.25 766.58 124.8 765.5" fill="none" stroke="#eba3a3" stroke-width="0.7"/>
<path d="M69.8 746.8 C71.75 745.93 77.47 742.68 81.5 741.6 C85.53 740.52 89.42 739.57 94 740.3 C98.58 741.03 104.83 743.33 109 746 C113.17 748.67 116.67 752.88 119 756.3 C121.33 759.72 122.33 764.8 123 766.5" fill="none" stroke="#c99191" stroke-width="1.7"/>
<path d="M104.5 764 C103.08 763.22 99.08 759.93 96 759.3 C92.92 758.67 88.57 759 86 760.2 C83.43 761.4 81.02 764.37 80.6 766.5 C80.18 768.63 81.18 771.62 83.5 773 C85.82 774.38 92.67 774.5 94.5 774.8" fill="none" stroke="#c99191" stroke-width="1.5"/>
<path d="M85 769.5 C86.17 769.08 89.33 767.33 92 767 C94.67 766.67 98 766.92 101 767.5 C104 768.08 108.5 770 110 770.5" fill="none" stroke="#cfa0a0" stroke-width="1.2"/>
<g font-weight="bold" font-size="9.8" fill="#fdf6f6" stroke="#fdf6f6" stroke-width="0.3"><text x="79" y="743.4" textLength="17.5" lengthAdjust="spacingAndGlyphs">CA1</text><text x="67.9" y="765.2" textLength="13" lengthAdjust="spacingAndGlyphs">DG</text><text x="107" y="767.8" textLength="16.8" lengthAdjust="spacingAndGlyphs">CA3</text></g>
<path d="M81.9 765.5 C82.92 766.3 85.48 769.3 88 770.3 C90.52 771.3 93.92 771.43 97 771.5 C100.08 771.57 104.92 770.83 106.5 770.7" fill="none" stroke="#111" stroke-width="1.9"/>
<path d="M105.2 766.2 L113 770.2 L105.6 774.6 Z" fill="#111"/>
<path d="M138.8 748.7 C140.58 749 146.3 751.55 149.5 750.5 C152.7 749.45 154.08 744.65 158 742.4 C161.92 740.15 168.42 737.77 173 737 C177.58 736.23 180.92 736.33 185.5 737.8 C190.08 739.27 196.33 742.67 200.5 745.8 C204.67 748.93 207.87 752.72 210.5 756.6 C213.13 760.48 214.5 765.48 216.3 769.1 C218.1 772.72 221.1 775.95 221.3 778.3 C221.5 780.65 219.58 782.62 217.5 783.2 C215.42 783.78 212.75 782.07 208.8 781.8 C204.85 781.53 198.52 780.92 193.8 781.6 C189.08 782.28 184.67 785.9 180.5 785.9 C176.33 785.9 171.58 783.38 168.8 781.6 C166.02 779.82 166.15 776.03 163.8 775.2 C161.45 774.37 158.87 777.07 154.7 776.6 C150.53 776.13 141.45 773.1 138.8 772.4 Z" fill="#dfb7b7" stroke="#e79a9a" stroke-width="0.8"/>
<path d="M164.1 775 C164.33 773.6 164.1 768.9 165.5 766.6 C166.9 764.3 169.5 762.33 172.5 761.2 C175.5 760.07 180 759.65 183.5 759.8 C187 759.95 191 761.05 193.5 762.1 C196 763.15 197.67 765.43 198.5 766.1" fill="none" stroke="#eba3a3" stroke-width="0.8"/>
<path d="M208.8 781.8 C209.5 780.77 211.75 777.72 213 775.6 C214.25 773.48 215.75 770.18 216.3 769.1" fill="none" stroke="#eba3a3" stroke-width="0.7"/>
<path d="M161.3 750.4 C163.25 749.53 168.97 746.28 173 745.2 C177.03 744.12 180.92 743.17 185.5 743.9 C190.08 744.63 196.33 746.93 200.5 749.6 C204.67 752.27 208.17 756.48 210.5 759.9 C212.83 763.32 213.83 768.4 214.5 770.1" fill="none" stroke="#c99191" stroke-width="1.7"/>
<path d="M196 767.6 C194.58 766.82 190.58 763.53 187.5 762.9 C184.42 762.27 180.07 762.6 177.5 763.8 C174.93 765 172.52 767.97 172.1 770.1 C171.68 772.23 172.68 775.22 175 776.6 C177.32 777.98 184.17 778.1 186 778.4" fill="none" stroke="#c99191" stroke-width="1.5"/>
<path d="M176.5 773.1 C177.67 772.68 180.83 770.93 183.5 770.6 C186.17 770.27 189.5 770.52 192.5 771.1 C195.5 771.68 200 773.6 201.5 774.1" fill="none" stroke="#cfa0a0" stroke-width="1.2"/>
<g font-weight="bold" font-size="9.8" fill="#fdf6f6" stroke="#fdf6f6" stroke-width="0.3"><text x="170.5" y="747" textLength="17.5" lengthAdjust="spacingAndGlyphs">CA1</text><text x="159.4" y="768.8" textLength="13" lengthAdjust="spacingAndGlyphs">DG</text><text x="198.5" y="771.4" textLength="16.8" lengthAdjust="spacingAndGlyphs">CA3</text></g>
<path d="M173.4 769.1 C174.33 769.82 176.65 772.43 179 773.4 C181.35 774.37 184.17 774.7 187.5 774.9 C190.83 775.1 197.08 774.65 199 774.6" fill="none" stroke="#222" stroke-width="1.1"/>
<path d="M198.5 772.4 L203 774.5 L198.5 776.6 Z" fill="#222"/>
<rect x="242.7" y="722.8" width="11.8" height="11.8" fill="#d64b45"/>
<rect x="254.5" y="722.8" width="11.8" height="11.8" fill="#d9603f"/>
<rect x="266.3" y="722.8" width="11.8" height="11.8" fill="#d27c30"/>
<rect x="278.1" y="722.8" width="11.8" height="11.8" fill="#eebd4c"/>
<rect x="289.9" y="722.8" width="11.8" height="11.8" fill="#f7df90"/>
<rect x="301.7" y="722.8" width="11.8" height="11.8" fill="#fbf2d6"/>
<rect x="242.7" y="734.6" width="11.8" height="11.8" fill="#d9603f"/>
<rect x="254.5" y="734.6" width="11.8" height="11.8" fill="#d64b45"/>
<rect x="266.3" y="734.6" width="11.8" height="11.8" fill="#dd8c42"/>
<rect x="278.1" y="734.6" width="11.8" height="11.8" fill="#eebd4c"/>
<rect x="289.9" y="734.6" width="11.8" height="11.8" fill="#f7df90"/>
<rect x="301.7" y="734.6" width="11.8" height="11.8" fill="#fbf2d6"/>
<rect x="242.7" y="746.4" width="11.8" height="11.8" fill="#d27c30"/>
<rect x="254.5" y="746.4" width="11.8" height="11.8" fill="#dd8c42"/>
<rect x="266.3" y="746.4" width="11.8" height="11.8" fill="#d64b45"/>
<rect x="278.1" y="746.4" width="11.8" height="11.8" fill="#f7df90"/>
<rect x="289.9" y="746.4" width="11.8" height="11.8" fill="#f7df90"/>
<rect x="301.7" y="746.4" width="11.8" height="11.8" fill="#f7df90"/>
<rect x="242.7" y="758.2" width="11.8" height="11.8" fill="#eebd4c"/>
<rect x="254.5" y="758.2" width="11.8" height="11.8" fill="#eebd4c"/>
<rect x="266.3" y="758.2" width="11.8" height="11.8" fill="#f7df90"/>
<rect x="278.1" y="758.2" width="11.8" height="11.8" fill="#cf2f24"/>
<rect x="289.9" y="758.2" width="11.8" height="11.8" fill="#d9603f"/>
<rect x="301.7" y="758.2" width="11.8" height="11.8" fill="#dd8c42"/>
<rect x="242.7" y="770" width="11.8" height="11.8" fill="#f7df90"/>
<rect x="254.5" y="770" width="11.8" height="11.8" fill="#f7df90"/>
<rect x="266.3" y="770" width="11.8" height="11.8" fill="#f7df90"/>
<rect x="278.1" y="770" width="11.8" height="11.8" fill="#d9603f"/>
<rect x="289.9" y="770" width="11.8" height="11.8" fill="#d64b45"/>
<rect x="301.7" y="770" width="11.8" height="11.8" fill="#d9603f"/>
<rect x="242.7" y="781.8" width="11.8" height="11.8" fill="#fbf2d6"/>
<rect x="254.5" y="781.8" width="11.8" height="11.8" fill="#fbf2d6"/>
<rect x="266.3" y="781.8" width="11.8" height="11.8" fill="#f7df90"/>
<rect x="278.1" y="781.8" width="11.8" height="11.8" fill="#dd8c42"/>
<rect x="289.9" y="781.8" width="11.8" height="11.8" fill="#d9603f"/>
<rect x="301.7" y="781.8" width="11.8" height="11.8" fill="#d64b45"/>
<g stroke="#5b4644" stroke-width="1.05" fill="none">
<line x1="242.7" y1="722.3" x2="242.7" y2="794.1"/>
<line x1="242.2" y1="722.8" x2="314" y2="722.8"/>
<line x1="254.5" y1="722.3" x2="254.5" y2="794.1"/>
<line x1="242.2" y1="734.6" x2="314" y2="734.6"/>
<line x1="266.3" y1="722.3" x2="266.3" y2="794.1"/>
<line x1="242.2" y1="746.4" x2="314" y2="746.4"/>
<line x1="278.1" y1="722.3" x2="278.1" y2="794.1"/>
<line x1="242.2" y1="758.2" x2="314" y2="758.2"/>
<line x1="289.9" y1="722.3" x2="289.9" y2="794.1"/>
<line x1="242.2" y1="770" x2="314" y2="770"/>
<line x1="301.7" y1="722.3" x2="301.7" y2="794.1"/>
<line x1="242.2" y1="781.8" x2="314" y2="781.8"/>
<line x1="313.5" y1="722.3" x2="313.5" y2="794.1"/>
<line x1="242.2" y1="793.6" x2="314" y2="793.6"/>
</g>
<rect x="317.2" y="722.8" width="11.75" height="11.75" fill="#fffae9"/>
<rect x="328.95" y="722.8" width="11.75" height="11.75" fill="#dd8c42"/>
<rect x="340.7" y="722.8" width="11.75" height="11.75" fill="#f9e6a8"/>
<rect x="352.45" y="722.8" width="11.75" height="11.75" fill="#fbf2d6"/>
<rect x="364.2" y="722.8" width="11.75" height="11.75" fill="#f9e6a8"/>
<rect x="375.95" y="722.8" width="11.75" height="11.75" fill="#fbf2d6"/>
<rect x="317.2" y="734.55" width="11.75" height="11.75" fill="#dd8c42"/>
<rect x="328.95" y="734.55" width="11.75" height="11.75" fill="#fffae9"/>
<rect x="340.7" y="734.55" width="11.75" height="11.75" fill="#f7d87c"/>
<rect x="352.45" y="734.55" width="11.75" height="11.75" fill="#fbf2d6"/>
<rect x="364.2" y="734.55" width="11.75" height="11.75" fill="#f9e6a8"/>
<rect x="375.95" y="734.55" width="11.75" height="11.75" fill="#fbf2d6"/>
<rect x="317.2" y="746.3" width="11.75" height="11.75" fill="#f9e6a8"/>
<rect x="328.95" y="746.3" width="11.75" height="11.75" fill="#f7d87c"/>
<rect x="340.7" y="746.3" width="11.75" height="11.75" fill="#fffae9"/>
<rect x="352.45" y="746.3" width="11.75" height="11.75" fill="#fbf2d6"/>
<rect x="364.2" y="746.3" width="11.75" height="11.75" fill="#f4ecd0"/>
<rect x="375.95" y="746.3" width="11.75" height="11.75" fill="#f9e6a8"/>
<rect x="317.2" y="758.05" width="11.75" height="11.75" fill="#fbf2d6"/>
<rect x="328.95" y="758.05" width="11.75" height="11.75" fill="#fbf2d6"/>
<rect x="340.7" y="758.05" width="11.75" height="11.75" fill="#fbf2d6"/>
<rect x="352.45" y="758.05" width="11.75" height="11.75" fill="#fffae9"/>
<rect x="364.2" y="758.05" width="11.75" height="11.75" fill="#f4ecd0"/>
<rect x="375.95" y="758.05" width="11.75" height="11.75" fill="#fbf2d6"/>
<rect x="317.2" y="769.8" width="11.75" height="11.75" fill="#f9e6a8"/>
<rect x="328.95" y="769.8" width="11.75" height="11.75" fill="#f9e6a8"/>
<rect x="340.7" y="769.8" width="11.75" height="11.75" fill="#f4ecd0"/>
<rect x="352.45" y="769.8" width="11.75" height="11.75" fill="#f4ecd0"/>
<rect x="364.2" y="769.8" width="11.75" height="11.75" fill="#fffae9"/>
<rect x="375.95" y="769.8" width="11.75" height="11.75" fill="#fbf2d6"/>
<rect x="317.2" y="781.55" width="11.75" height="11.75" fill="#fbf2d6"/>
<rect x="328.95" y="781.55" width="11.75" height="11.75" fill="#fbf2d6"/>
<rect x="340.7" y="781.55" width="11.75" height="11.75" fill="#f9e6a8"/>
<rect x="352.45" y="781.55" width="11.75" height="11.75" fill="#fbf2d6"/>
<rect x="364.2" y="781.55" width="11.75" height="11.75" fill="#fbf2d6"/>
<rect x="375.95" y="781.55" width="11.75" height="11.75" fill="#fbf2d6"/>
<g stroke="#5b4644" stroke-width="1.05" fill="none">
<line x1="317.2" y1="722.3" x2="317.2" y2="793.8"/>
<line x1="316.7" y1="722.8" x2="388.2" y2="722.8"/>
<line x1="328.95" y1="722.3" x2="328.95" y2="793.8"/>
<line x1="316.7" y1="734.55" x2="388.2" y2="734.55"/>
<line x1="340.7" y1="722.3" x2="340.7" y2="793.8"/>
<line x1="316.7" y1="746.3" x2="388.2" y2="746.3"/>
<line x1="352.45" y1="722.3" x2="352.45" y2="793.8"/>
<line x1="316.7" y1="758.05" x2="388.2" y2="758.05"/>
<line x1="364.2" y1="722.3" x2="364.2" y2="793.8"/>
<line x1="316.7" y1="769.8" x2="388.2" y2="769.8"/>
<line x1="375.95" y1="722.3" x2="375.95" y2="793.8"/>
<line x1="316.7" y1="781.55" x2="388.2" y2="781.55"/>
<line x1="387.7" y1="722.3" x2="387.7" y2="793.8"/>
<line x1="316.7" y1="793.3" x2="388.2" y2="793.3"/>
</g>
<defs><linearGradient id="cb" x1="0" y1="0" x2="0" y2="1"><stop offset="0" stop-color="#d64545"/><stop offset="0.5" stop-color="#e7904a"/><stop offset="1" stop-color="#f7dc8c"/></linearGradient></defs>
<rect x="391.3" y="722.8" width="6.3" height="23.4" fill="url(#cb)" stroke="#5b4644" stroke-width="1"/>
<circle cx="462.6" cy="764.8" r="42.6" fill="#efefef" stroke="#4a4a4a" stroke-width="1.4"/>
<g fill="#ffffff" stroke="#bdbdbd" stroke-width="1">
<circle cx="463.83" cy="730.42" r="4.4"/>
<circle cx="475.75" cy="732.95" r="4.4"/>
<circle cx="485.81" cy="739.28" r="4.4"/>
<circle cx="493.15" cy="748.7" r="4.4"/>
<circle cx="496.81" cy="759.95" r="4.4"/>
<circle cx="496.56" cy="771.13" r="4.4"/>
<circle cx="485.27" cy="790.8" r="4.4"/>
<circle cx="475.02" cy="796.94" r="4.4"/>
<circle cx="463.83" cy="799.18" r="4.4"/>
<circle cx="452.81" cy="797.73" r="4.4"/>
<circle cx="442.53" cy="792.63" r="4.4"/>
<circle cx="433.29" cy="782.57" r="4.4"/>
<circle cx="428.76" cy="770.12" r="4.4"/>
<circle cx="429.19" cy="757.24" r="4.4"/>
<circle cx="434.1" cy="745.76" r="4.4"/>
<circle cx="442.1" cy="737.29" r="4.4"/>
<circle cx="452.98" cy="731.82" r="4.4"/>
</g>
<circle cx="492.48" cy="781.9" r="4.6" fill="#000"/>
<path d="M467.2 771.7 C468.5 771.28 472.45 769.12 475 769.2 C477.55 769.28 480.18 770.77 482.5 772.2 C484.82 773.63 487.83 776.87 488.9 777.8" fill="none" stroke="#4a2e2e" stroke-width="1.5" stroke-dasharray="2 1.4"/>
<path d="M454.2 779.4 L456.7 776.1 L460 771.9 L462.8 770.6 L466.7 771.7 L464.4 774.4 L461.7 778.3 L461.1 781.4 L456.7 781.1 Z" fill="#3a3a3a" stroke="#3a3a3a" stroke-width="0.6" stroke-linejoin="round"/>
<path d="M456.1 781.7 C455.55 782.25 454 784.27 452.8 785 C451.6 785.73 449.73 785.27 448.9 786.1 C448.07 786.93 447.98 789.35 447.8 790" fill="none" stroke="#555" stroke-width="0.8"/>
<circle cx="558.7" cy="765" r="42.6" fill="#efefef" stroke="#4a4a4a" stroke-width="1.4"/>
<g fill="#ffffff" stroke="#bdbdbd" stroke-width="1">
<circle cx="559.93" cy="730.62" r="4.4"/>
<circle cx="571.85" cy="733.15" r="4.4"/>
<circle cx="581.91" cy="739.48" r="4.4"/>
<circle cx="589.25" cy="748.9" r="4.4"/>
<circle cx="592.91" cy="760.15" r="4.4"/>
<circle cx="592.66" cy="771.33" r="4.4"/>
<circle cx="581.37" cy="791" r="4.4"/>
<circle cx="571.12" cy="797.14" r="4.4"/>
<circle cx="559.93" cy="799.38" r="4.4"/>
<circle cx="548.91" cy="797.93" r="4.4"/>
<circle cx="538.63" cy="792.83" r="4.4"/>
<circle cx="529.39" cy="782.77" r="4.4"/>
<circle cx="524.86" cy="770.32" r="4.4"/>
<circle cx="525.29" cy="757.44" r="4.4"/>
<circle cx="530.2" cy="745.96" r="4.4"/>
<circle cx="538.2" cy="737.49" r="4.4"/>
<circle cx="549.08" cy="732.02" r="4.4"/>
</g>
<circle cx="588.58" cy="782.1" r="4.6" fill="#000"/>
<path d="M562.1 770.5 C560.1 768.95 551.55 764.4 550.1 761.2 C548.65 758 551.75 754.23 553.4 751.3 C555.05 748.37 558.18 746.35 560 743.6 C561.82 740.85 562.48 737.47 564.3 734.8 C566.12 732.13 568.33 728.88 570.9 727.6 C573.47 726.32 576.58 725.72 579.7 727.1 C582.82 728.48 588.13 733.52 589.6 735.9 C591.07 738.28 590.15 739.93 588.5 741.4 C586.85 742.87 584.45 744.25 579.7 744.7 C574.95 745.15 565.12 744.02 560 744.1 C554.88 744.18 551.93 744.18 549 745.2 C546.07 746.22 543.97 747.53 542.4 750.2 C540.83 752.87 540.25 756.63 539.6 761.2 C538.95 765.77 538.68 774.87 538.5 777.6" fill="none" stroke="#4a2e2e" stroke-width="1.5" stroke-dasharray="2 1.4"/>
<path d="M550.3 779.6 L552.8 776.3 L556.1 772.1 L558.9 770.8 L562.8 771.9 L560.5 774.6 L557.8 778.5 L557.2 781.6 L552.8 781.3 Z" fill="#3a3a3a" stroke="#3a3a3a" stroke-width="0.6" stroke-linejoin="round"/>
<path d="M552.2 781.9 C551.65 782.45 550.1 784.47 548.9 785.2 C547.7 785.93 545.83 785.47 545 786.3 C544.17 787.13 544.08 789.55 543.9 790.2" fill="none" stroke="#555" stroke-width="0.8"/>

<!--/FIG-->
</g>
</svg>
</body></html>
